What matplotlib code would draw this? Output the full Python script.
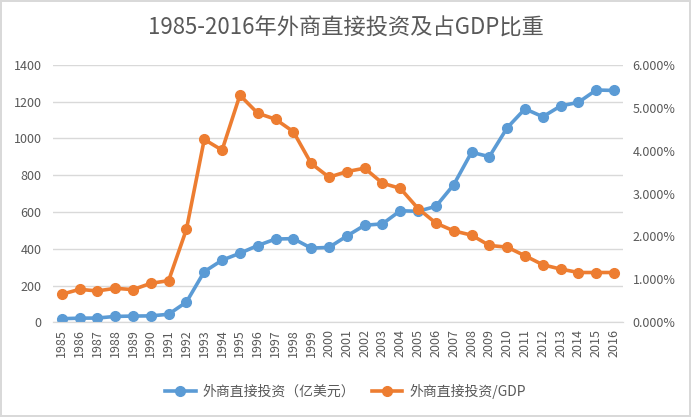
import matplotlib
matplotlib.use("Agg")
import matplotlib.pyplot as plt
from matplotlib.ticker import FuncFormatter

plt.rcParams['font.family'] = ['Noto Sans CJK SC', 'DejaVu Sans']

years = [str(y) for y in range(1985, 2017)]
fdi = [19.56, 22.44, 23.14, 31.94, 33.92, 34.87, 43.66, 110.07, 275.15, 337.67,
       375.21, 417.26, 452.57, 454.63, 403.19, 407.15, 468.78, 527.43, 535.05, 606.3,
       603.25, 630.21, 747.68, 923.95, 900.33, 1057.35, 1160.11, 1117.16, 1175.86,
       1195.62, 1262.67, 1260.01]
fdi_gdp = [0.652, 0.768, 0.730, 0.792, 0.761, 0.908, 0.970, 2.166, 4.26, 4.01,
           5.29, 4.87, 4.73, 4.44, 3.70, 3.38, 3.51, 3.59, 3.24, 3.12,
           2.65, 2.31, 2.13, 2.03, 1.79, 1.75, 1.55, 1.34, 1.24, 1.16,
           1.16, 1.16]
fdi_gdp = [v / 100 for v in fdi_gdp]

label1 = '外商直接投资（亿美元）'
label2 = '外商直接投资/GDP'
title = '1985-2016年外商直接投资及占GDP比重'

blue = '#5B9BD5'
orange = '#ED7D31'
txt = '#595959'
grid = '#D9D9D9'

fig = plt.figure(figsize=(6.91, 4.17), dpi=100, edgecolor=grid, linewidth=1.5)
ax = fig.add_axes([0.0764, 0.2271, 0.8252, 0.6177])
ax2 = ax.twinx()

x = list(range(len(years)))
l1, = ax.plot(x, fdi, color=blue, lw=2.6, marker='o', ms=7, label=label1, zorder=3)
l2, = ax2.plot(x, fdi_gdp, color=orange, lw=2.6, marker='o', ms=7, label=label2, zorder=3)

ax.set_xlim(-0.5, len(years) - 0.5)
ax.set_ylim(0, 1400)
ax.set_yticks(range(0, 1401, 200))
ax2.set_ylim(0, 0.06)
ax2.set_yticks([i / 100 for i in range(0, 7)])
ax2.yaxis.set_major_formatter(FuncFormatter(lambda v, p: f'{v*100:.3f}%'))

ax.set_xticks(x)
ax.set_xticklabels(years, rotation=90)
ax.grid(axis='y', color=grid, lw=1)
ax.set_axisbelow(True)
for a in (ax, ax2):
    for s in ('top', 'left', 'right'):
        a.spines[s].set_visible(False)
    a.spines['bottom'].set_color(grid)
    a.tick_params(length=0, colors=txt, labelsize=9)
ax.tick_params(axis='x', pad=5)
ax.tick_params(axis='y', pad=8)
ax2.tick_params(axis='y', pad=7)

fig.text(0.5, 1 - 28 / 417, title, ha='center', va='center', fontsize=16, color=txt)
fig.legend(handles=[l1, l2], loc='center', bbox_to_anchor=(0.5, 1 - 391 / 417),
           ncol=2, frameon=False, fontsize=10, labelcolor=txt, handlelength=2.2,
           columnspacing=1.2, handletextpad=0.5)

fig.savefig('out.png', dpi=100, edgecolor=fig.get_edgecolor())
